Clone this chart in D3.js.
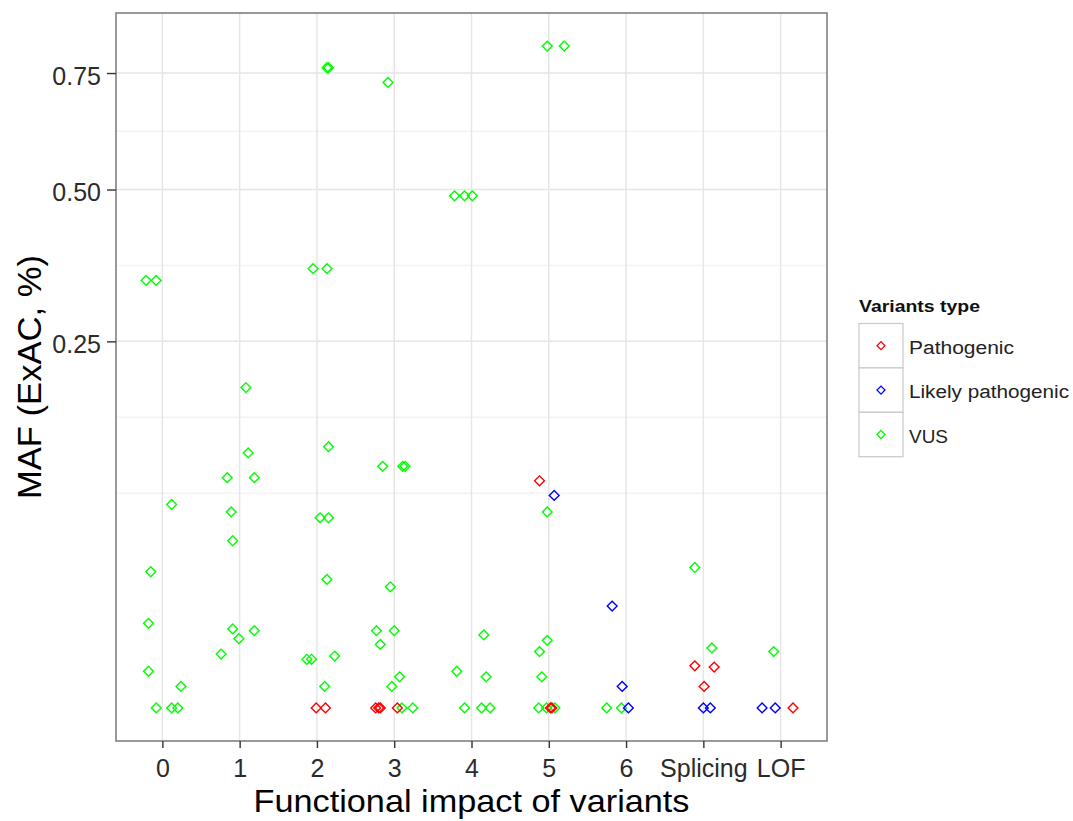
<!DOCTYPE html>
<html>
<head>
<meta charset="utf-8">
<script src="https://cdn.jsdelivr.net/npm/d3@7"></script>
<style>
  html, body { margin: 0; padding: 0; background: #fff; }
  svg { display: block; font-family: "Liberation Sans", Arial, Helvetica, sans-serif; }
</style>
</head>
<body>
<svg id="chart" width="1073" height="821"></svg>
<script>
// ---------------- data ----------------
const categories = ["0", "1", "2", "3", "4", "5", "6", "Splicing", "LOF"];
const seriesNames = ["Pathogenic", "Likely pathogenic", "VUS"];
const seriesColors = ["#FF0000", "#0000FF", "#00FF00"];
const yTickValues = [0.25, 0.50, 0.75];
const yTickLabels = ["0.25", "0.50", "0.75"];
const xTitle = "Functional impact of variants";
const yTitle = "MAF (ExAC, %)";
const legendTitle = "Variants type";

// each point: [category, horizontal jitter (category units), MAF %]
const vus = [
  ["0", -0.21, 0.340], ["0", -0.08, 0.340], ["0", 0.12, 0.077], ["0", -0.15, 0.0345],
  ["0", -0.18, 0.0133], ["0", -0.18, 0.0025], ["0", 0.24, 0.00086], ["0", -0.08, 0],
  ["0", 0.12, 0], ["0", 0.20, 0],
  ["1", 0.08, 0.191], ["1", 0.11, 0.121], ["1", -0.16, 0.0986], ["1", 0.19, 0.0986],
  ["1", -0.11, 0.0715], ["1", -0.09, 0.052], ["1", -0.09, 0.0116], ["1", 0.19, 0.0111],
  ["1", -0.01, 0.0089], ["1", -0.24, 0.0054],
  ["2", 0.13, 0.7625], ["2", 0.15, 0.7625], ["2", -0.05, 0.359], ["2", 0.13, 0.359],
  ["2", 0.15, 0.127], ["2", 0.04, 0.0672], ["2", 0.15, 0.0672], ["2", 0.13, 0.0307],
  ["2", -0.13, 0.0044], ["2", -0.07, 0.0044], ["2", 0.23, 0.0050], ["2", 0.10, 0.00086],
  ["3", -0.08, 0.728], ["3", -0.15, 0.1086], ["3", 0.11, 0.1086], ["3", 0.14, 0.1086],
  ["3", -0.05, 0.0273], ["3", -0.23, 0.0111], ["3", 0.00, 0.0111], ["3", -0.18, 0.0075],
  ["3", 0.07, 0.0018], ["3", -0.03, 0.00086], ["3", 0.10, 0], ["3", 0.24, 0],
  ["4", -0.22, 0.488], ["4", -0.09, 0.488], ["4", 0.01, 0.488], ["4", 0.16, 0.0099],
  ["4", -0.19, 0.0025], ["4", 0.19, 0.0018], ["4", -0.09, 0], ["4", 0.13, 0], ["4", 0.24, 0],
  ["5", -0.02, 0.815], ["5", 0.20, 0.815], ["5", -0.02, 0.0715], ["5", -0.02, 0.0085],
  ["5", -0.12, 0.0059], ["5", -0.09, 0.0018], ["5", -0.13, 0], ["5", -0.03, 0], ["5", 0.08, 0],
  ["6", -0.25, 0], ["6", -0.06, 0],
  ["Splicing", -0.11, 0.0367], ["Splicing", 0.11, 0.0067],
  ["LOF", -0.09, 0.0059]
];
const likelyPathogenic = [
  ["5", 0.07, 0.084],
  ["6", -0.18, 0.0193], ["6", -0.05, 0.00086], ["6", 0.03, 0],
  ["Splicing", 0.00, 0], ["Splicing", 0.09, 0],
  ["LOF", -0.24, 0], ["LOF", -0.07, 0]
];
const pathogenic = [
  ["2", -0.01, 0], ["2", 0.11, 0],
  ["3", -0.24, 0], ["3", -0.20, 0], ["3", -0.18, 0], ["3", 0.04, 0],
  ["5", -0.12, 0.096], ["5", 0.02, 0], ["5", 0.04, 0],
  ["Splicing", -0.11, 0.0033], ["Splicing", 0.14, 0.0031], ["Splicing", 0.01, 0.00086],
  ["LOF", 0.16, 0]
];

// ---------------- layout ----------------
const svg = d3.select("#chart");
const panel = { left: 116, top: 13, right: 827, bottom: 741 };
const pw = panel.right - panel.left, ph = panel.bottom - panel.top;
const FONT = '"Liberation Sans", Arial, Helvetica, sans-serif';

const allMaf = [].concat(vus, likelyPathogenic, pathogenic).map(d => d[2]);
const maxV = d3.max(allMaf);
// ggplot-like 5% expansion in sqrt space
const pad = 0.05 * ph / 1.1;
const y = d3.scaleSqrt().domain([0, maxV]).range([panel.bottom - pad, panel.top + pad]);
const x = d3.scalePoint().domain(categories).range([panel.left, panel.right]).padding(0.6);
const step = x.step();
const px = d => x(d[0]) + d[1] * step;

// panel background
svg.append("rect").attr("x", panel.left).attr("y", panel.top).attr("width", pw).attr("height", ph)
  .attr("fill", "#fff");

// minor gridlines (midpoints in sqrt space, ggplot style)
const tb = yTickValues.map(Math.sqrt);
const ext = [tb[0] - (tb[1] - tb[0])].concat(tb);
const minorS = [ext[0]];
for (let i = 0; i < ext.length - 1; i++) minorS.push((ext[i] + ext[i + 1]) / 2);
const gGrid = svg.append("g");
gGrid.selectAll("line.minor").data(minorS).join("line")
  .attr("x1", panel.left).attr("x2", panel.right)
  .attr("y1", s => y(s * s)).attr("y2", s => y(s * s))
  .attr("stroke", "#F3F3F3").attr("stroke-width", 1.5);
gGrid.selectAll("line.majory").data(yTickValues).join("line")
  .attr("x1", panel.left).attr("x2", panel.right)
  .attr("y1", d => y(d)).attr("y2", d => y(d))
  .attr("stroke", "#E6E6E6").attr("stroke-width", 1.5);
gGrid.selectAll("line.majorx").data(categories).join("line")
  .attr("y1", panel.top).attr("y2", panel.bottom)
  .attr("x1", d => x(d)).attr("x2", d => x(d))
  .attr("stroke", "#E6E6E6").attr("stroke-width", 1.5);

// points
const diamond = d3.symbol(d3.symbolSquare, 48)();
const series = [pathogenic, likelyPathogenic, vus];
const drawOrder = [2, 1, 0];
const gPts = svg.append("g");
drawOrder.forEach(si => {
  gPts.append("g").selectAll("path").data(series[si]).join("path")
    .attr("d", diamond)
    .attr("transform", d => `translate(${px(d)},${y(d[2])}) rotate(45)`)
    .attr("fill", "none").attr("stroke", seriesColors[si]).attr("stroke-width", 1.4);
});

// panel border
svg.append("rect").attr("x", panel.left).attr("y", panel.top).attr("width", pw).attr("height", ph)
  .attr("fill", "none").attr("stroke", "#808080").attr("stroke-width", 1.6);

// axes
const yAxis = d3.axisLeft(y).tickValues(yTickValues).tickFormat((d, i) => yTickLabels[i])
  .tickSize(9).tickPadding(6);
const gy = svg.append("g").attr("transform", `translate(${panel.left},0)`).call(yAxis);
gy.select(".domain").remove();
gy.selectAll(".tick line").attr("stroke", "#333").attr("stroke-width", 1.4);
gy.selectAll(".tick text").attr("font-size", 25).attr("fill", "#2b2b2b")
  .attr("font-family", FONT).attr("dy", null).attr("y", 11).attr("x", -15);

const xAxis = d3.axisBottom(x).tickSize(7).tickPadding(6);
const gx = svg.append("g").attr("transform", `translate(0,${panel.bottom})`).call(xAxis);
gx.select(".domain").remove();
gx.selectAll(".tick line").attr("stroke", "#333").attr("stroke-width", 1.4);
gx.selectAll(".tick text").attr("font-size", 25).attr("fill", "#2b2b2b")
  .attr("font-family", FONT).attr("dy", null).attr("y", 35.5);

// axis titles
svg.append("text").attr("x", (panel.left + panel.right) / 2).attr("y", 812)
  .attr("text-anchor", "middle").attr("font-size", 32).attr("fill", "#000")
  .attr("textLength", 436).attr("lengthAdjust", "spacingAndGlyphs").text(xTitle);
svg.append("text").attr("transform", `translate(41,${(panel.top + panel.bottom) / 2}) rotate(-90)`)
  .attr("text-anchor", "middle").attr("font-size", 33).attr("fill", "#000")
  .attr("textLength", 244).attr("lengthAdjust", "spacingAndGlyphs").text(yTitle);

// legend
const lg = svg.append("g");
lg.append("text").attr("x", 859).attr("y", 312).attr("font-size", 16).attr("font-weight", "bold")
  .attr("fill", "#111").attr("textLength", 121).attr("lengthAdjust", "spacingAndGlyphs").text(legendTitle);
const keyTop = 323.5, keyH = 44.4, keyW = 44, keyX = 859;
const labelWidths = [105, 160, 39];
seriesNames.forEach((name, i) => {
  const ky = keyTop + i * keyH;
  lg.append("rect").attr("x", keyX).attr("y", ky).attr("width", keyW).attr("height", keyH)
    .attr("fill", "#fff").attr("stroke", "#CCCCCC").attr("stroke-width", 1.3);
  lg.append("path").attr("d", d3.symbol(d3.symbolSquare, 32)())
    .attr("transform", `translate(${keyX + keyW / 2},${ky + keyH / 2}) rotate(45)`)
    .attr("fill", "none").attr("stroke", seriesColors[i]).attr("stroke-width", 1.3);
  lg.append("text").attr("x", 909).attr("y", ky + keyH / 2 + 8.3).attr("font-size", 18)
    .attr("fill", "#222").attr("textLength", labelWidths[i]).attr("lengthAdjust", "spacingAndGlyphs")
    .text(name);
});
</script>
</body>
</html>
